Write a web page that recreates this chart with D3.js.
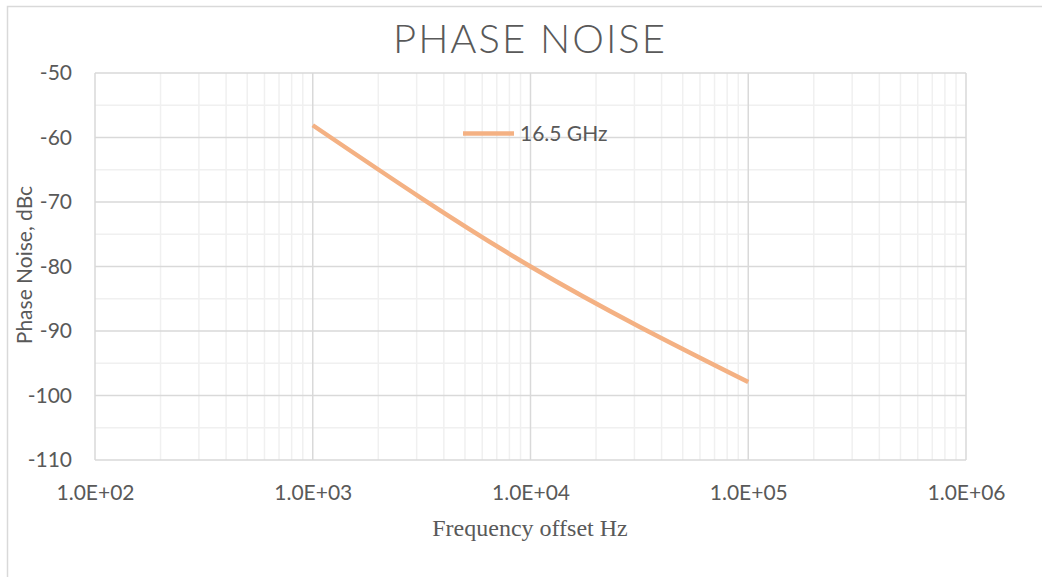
<!DOCTYPE html>
<html>
<head>
<meta charset="utf-8">
<script src="https://cdn.jsdelivr.net/npm/d3@7"></script>
<style>
  body { margin: 0; background: #fff; }
  text { fill: #595959; }
</style>
</head>
<body>
<svg id="chart"></svg>
<script>
// data
var freqs = [1e3, 1e4, 1e5]
var noise = [-58.1, -80, -97.9]
var seriesName = "16.5 GHz"
var xTicks = [1e2, 1e3, 1e4, 1e5, 1e6]
var yTicks = [-50, -60, -70, -80, -90, -100, -110]

var screen = {width: 1042, height: 577}
var margins = {top: 73, bottom: 117, left: 95, right: 76}
var graph = {
    width: screen.width - margins.left - margins.right,
    height: screen.height - margins.top - margins.bottom
}

var svg = d3.select("#chart")
    .attr("width", screen.width)
    .attr("height", screen.height)

// outer chart frame (runs off the picture on the right and bottom)
svg.append("rect")
    .attr("x", 7.5).attr("y", 6.5)
    .attr("width", 1100).attr("height", 700)
    .attr("fill", "none")
    .attr("stroke", "#d9d9d9")
    .attr("stroke-width", 1.5)

var xScale = d3.scaleLog().domain([1e2, 1e6]).range([0, graph.width])
var yScale = d3.scaleLinear().domain([-110, -50]).range([graph.height, 0])

var g = svg.append("g")
    .attr("transform", "translate(" + margins.left + "," + margins.top + ")")

// minor grid
var minorX = []
for (var d = 1e2; d < 1e6; d *= 10) {
    for (var k = 2; k <= 9; k++) minorX.push(d * k)
}
g.selectAll(".minorx").data(minorX).enter().append("line")
    .attr("x1", function(v){ return xScale(v) }).attr("x2", function(v){ return xScale(v) })
    .attr("y1", 0).attr("y2", graph.height)
    .attr("stroke", "#f0f0f0").attr("stroke-width", 1.5)
var minorY = d3.range(-105, -50, 10)
g.selectAll(".minory").data(minorY).enter().append("line")
    .attr("x1", 0).attr("x2", graph.width)
    .attr("y1", function(v){ return yScale(v) }).attr("y2", function(v){ return yScale(v) })
    .attr("stroke", "#f0f0f0").attr("stroke-width", 1.5)

// major grid
g.selectAll(".majorx").data(xTicks).enter().append("line")
    .attr("x1", function(v){ return xScale(v) }).attr("x2", function(v){ return xScale(v) })
    .attr("y1", 0).attr("y2", graph.height)
    .attr("stroke", "#d9d9d9").attr("stroke-width", 1.5)
g.selectAll(".majory").data(yTicks).enter().append("line")
    .attr("x1", 0).attr("x2", graph.width)
    .attr("y1", function(v){ return yScale(v) }).attr("y2", function(v){ return yScale(v) })
    .attr("stroke", "#d9d9d9").attr("stroke-width", 1.5)

// axes (labels only)
var xAxis = d3.axisBottom(xScale)
    .tickValues(xTicks)
    .tickSize(0).tickPadding(25)
    .tickFormat(function(v){ return "1.0E+" + d3.format("02d")(Math.round(Math.log10(v))) })
var yAxis = d3.axisLeft(yScale)
    .tickValues(yTicks)
    .tickSize(0).tickPadding(23)
    .tickFormat(function(v){ return String(v) })

var gx = g.append("g").attr("transform", "translate(0," + graph.height + ")").call(xAxis)
var gy = g.append("g").call(yAxis)
;[gx, gy].forEach(function(a){
    a.select(".domain").remove()
    a.selectAll("text")
        .attr("font-family", "Lato, 'Open Sans', sans-serif")
        .attr("font-size", 21)
        .attr("fill", "#595959")
})

// line
var line = d3.line()
    .x(function(d){ return xScale(d[0]) })
    .y(function(d){ return yScale(d[1]) })
    .curve(d3.curveMonotoneX)
g.append("path")
    .datum(d3.zip(freqs, noise))
    .attr("d", line)
    .attr("fill", "none")
    .attr("stroke", "#f4b183")
    .attr("stroke-width", 4.5)

// legend
var legend = svg.append("g")
legend.append("line")
    .attr("x1", 463).attr("x2", 514).attr("y1", 133.5).attr("y2", 133.5)
    .attr("stroke", "#f4b183").attr("stroke-width", 4.5)
legend.append("text")
    .text(seriesName)
    .attr("x", 520).attr("y", 141)
    .attr("font-family", "Lato, 'Open Sans', sans-serif")
    .attr("font-size", 21)

// titles
svg.append("text")
    .text("PHASE NOISE")
    .attr("x", 530).attr("y", 53)
    .attr("text-anchor", "middle")
    .attr("font-family", "Lato, 'Open Sans', sans-serif")
    .attr("font-weight", 300)
    .attr("font-size", 40)
    .attr("letter-spacing", 2)

svg.append("text")
    .text("Frequency offset Hz")
    .attr("x", 530).attr("y", 536)
    .attr("text-anchor", "middle")
    .attr("font-family", "'Liberation Serif', 'Times New Roman', serif")
    .attr("font-size", 24)

svg.append("g")
    .attr("transform", "translate(32,265)")
    .append("text")
    .text("Phase Noise, dBc")
    .attr("text-anchor", "middle")
    .attr("transform", "rotate(-90)")
    .attr("font-family", "Lato, 'Open Sans', sans-serif")
    .attr("font-size", 21)
</script>
</body>
</html>
